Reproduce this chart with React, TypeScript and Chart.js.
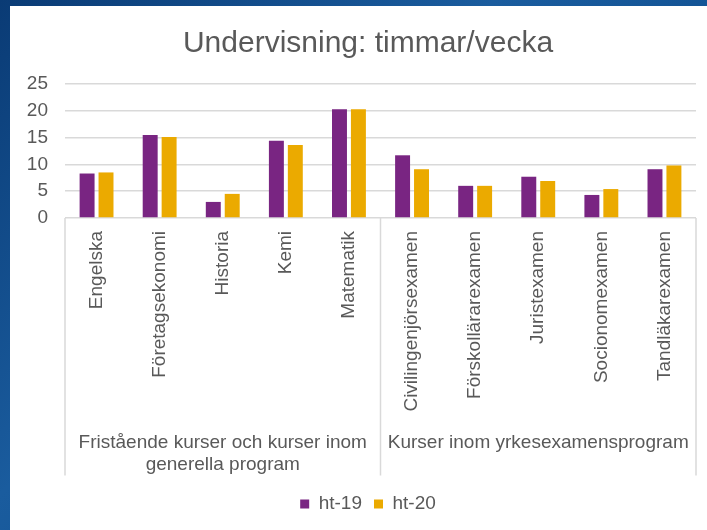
import React, { useEffect, useRef } from "react";
import { Chart, registerables } from "chart.js";

Chart.register(...registerables);

const TITLE = "Undervisning: timmar/vecka";
const categories = [
  "Engelska",
  "Företagsekonomi",
  "Historia",
  "Kemi",
  "Matematik",
  "Civilingenjörsexamen",
  "Förskollärarexamen",
  "Juristexamen",
  "Socionomexamen",
  "Tandläkarexamen",
];
const groupLabels = [
  ["Fristående kurser och kurser inom", "generella program"],
  "Kurser inom yrkesexamensprogram",
];
const groupSizes = [5, 5];
const seriesNames = ["ht-19", "ht-20"];
const ht19 = [8.3, 15.5, 3.0, 14.4, 20.3, 11.7, 6.0, 7.7, 4.3, 9.1];
const ht20 = [8.5, 15.1, 4.5, 13.6, 20.3, 9.1, 6.0, 6.9, 5.4, 9.8];
const yMax = 25;
const yStep = 5;

const PURPLE = "#792582";
const GOLD = "#EBAA00";
const TEXT = "#595959";
const GRID = "#d9d9d9";
const FONT = "'Liberation Sans', Arial, sans-serif";

const separatorPlugin = {
  id: "groupSeparators",
  afterDraw(chart: any) {
    const x = chart.scales.x;
    const x2 = chart.scales.x2;
    const ctx = chart.ctx;
    const positions: number[] = [x.left];
    let idx = 0;
    for (let g = 0; g < groupSizes.length - 1; g++) {
      idx += groupSizes[g];
      positions.push((x.getPixelForValue(idx - 1) + x.getPixelForValue(idx)) / 2);
    }
    positions.push(x.right);
    ctx.save();
    ctx.strokeStyle = GRID;
    ctx.lineWidth = 1.5;
    positions.forEach((px) => {
      ctx.beginPath();
      ctx.moveTo(px, x.top);
      ctx.lineTo(px, x2.bottom - 7);
      ctx.stroke();
    });
    ctx.restore();
  },
};

export default function App() {
  const ref = useRef<HTMLCanvasElement | null>(null);
  useEffect(() => {
    if (!ref.current) return;
    Chart.defaults.font.family = FONT;
    const chart = new Chart(ref.current, {
      type: "bar",
      data: {
        labels: categories,
        datasets: [
          {
            label: seriesNames[0],
            data: ht19,
            backgroundColor: PURPLE,
            categoryPercentage: 0.6,
            barPercentage: 0.79,
          },
          {
            label: seriesNames[1],
            data: ht20,
            backgroundColor: GOLD,
            categoryPercentage: 0.6,
            barPercentage: 0.79,
          },
        ],
      },
      options: {
        animation: false,
        responsive: true,
        maintainAspectRatio: false,
        layout: { padding: { left: 16, right: 0, top: 0, bottom: 6.5 } },
        plugins: {
          title: {
            display: true,
            text: TITLE,
            color: TEXT,
            font: { size: 30, weight: "normal", family: FONT },
            padding: { top: 20, bottom: 22 },
          },
          legend: {
            position: "bottom",
            labels: {
              color: TEXT,
              font: { size: 19, family: FONT },
              boxWidth: 9,
              boxHeight: 9,
              padding: 12,
            },
          },
          tooltip: { enabled: false },
        },
        scales: {
          x: {
            type: "category",
            position: "bottom",
            weight: 0,
            offset: true,
            grid: { display: false, drawTicks: false },
            border: { display: false },
            ticks: {
              color: TEXT,
              font: { size: 19, family: FONT },
              autoSkip: false,
              maxRotation: 90,
              minRotation: 90,
              padding: 13,
            },
            afterFit: (s: any) => {
              s.height = 200;
            },
          },
          x2: {
            type: "category",
            position: "bottom",
            weight: 1,
            labels: groupLabels as any,
            offset: true,
            grid: { display: false, drawTicks: false },
            border: { display: false },
            ticks: {
              color: TEXT,
              font: { size: 19, family: FONT },
              autoSkip: false,
              maxRotation: 0,
              minRotation: 0,
              padding: 13,
            },
            afterFit: (s: any) => {
              s.height = 64.5;
            },
          },
          y: {
            min: 0,
            max: yMax,
            ticks: {
              stepSize: yStep,
              color: TEXT,
              font: { size: 19, family: FONT },
              padding: 17,
            },
            grid: { color: GRID, lineWidth: 1.5, drawTicks: false },
            border: { display: false },
            afterFit: (s: any) => {
              s.width = 39;
            },
          },
          ySpacer: {
            type: "linear",
            position: "right",
            display: true,
            ticks: { display: false },
            grid: { display: false, drawTicks: false },
            border: { display: false },
            afterFit: (s: any) => {
              s.width = 14;
            },
          },
        },
      },
      plugins: [separatorPlugin],
    } as any);
    return () => chart.destroy();
  }, []);

  return (
    <div
      style={{
        position: "fixed",
        left: 0,
        top: 0,
        width: 707,
        height: 530,
        background:
          "linear-gradient(135deg, #0a3b75 0%, #1a5c9e 40%, #0f4f90 70%, #0b417f 100%)",
        overflow: "hidden",
      }}
    >
      <div
        style={{
          position: "absolute",
          left: 10,
          top: 6,
          width: 697,
          height: 524,
          background: "#ffffff",
        }}
      >
        <div style={{ position: "relative", width: 700, height: 524 }}>
          <canvas ref={ref} />
        </div>
      </div>
    </div>
  );
}
